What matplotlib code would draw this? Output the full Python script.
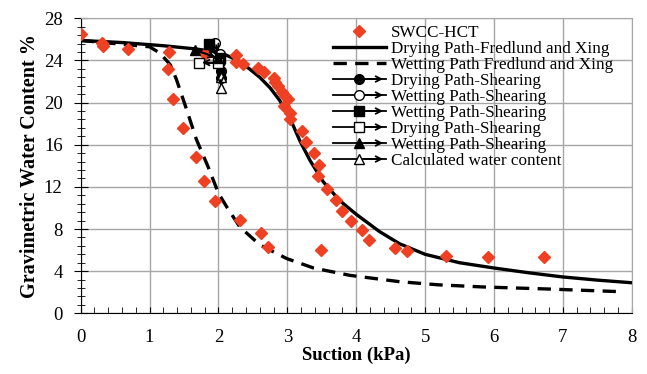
import matplotlib
matplotlib.use('Agg')
import matplotlib.pyplot as plt
from matplotlib.legend_handler import HandlerLine2D
from matplotlib.patches import FancyArrowPatch
from matplotlib.ticker import MultipleLocator

plt.rcParams['font.family'] = ['Liberation Serif', 'DejaVu Serif']

# measured SWCC points (HCT)
swcc_x = [0.0, 0.31, 0.32, 0.68, 1.28, 1.27, 1.34, 1.48, 1.68, 1.79, 1.95, 2.32, 2.62, 2.72,
          3.49, 1.81, 2.26, 2.25, 2.35, 2.57, 2.66, 2.80, 2.82, 2.87, 2.92, 2.96, 3.01,
          2.95, 3.04, 3.04, 3.21, 3.27, 3.39, 3.46, 3.44, 3.58, 3.70, 3.80, 3.92, 4.08,
          4.19, 4.56, 4.74, 5.30, 5.91, 6.72]
swcc_y = [26.5, 25.7, 25.4, 25.1, 24.8, 23.2, 20.3, 17.6, 14.8, 12.6, 10.7, 8.9, 7.6, 6.3,
          6.0, 24.6, 24.5, 23.9, 23.7, 23.3, 22.9, 22.3, 22.0, 21.6, 21.0, 20.6, 20.3,
          19.7, 19.0, 18.4, 17.3, 16.3, 15.2, 14.1, 13.0, 11.8, 10.8, 9.7, 8.8, 7.9,
          7.0, 6.2, 5.9, 5.4, 5.3, 5.3]

# Fredlund and Xing fits
dry_x = [0.0, 0.6, 1.2, 1.66, 2.0, 2.15, 2.3, 2.45, 2.6, 2.75, 2.89, 3.04, 3.18, 3.33, 3.52,
         3.76, 4.0, 4.34, 4.63, 5.0, 5.5, 6.0, 6.5, 7.0, 7.5, 8.0]
dry_y = [25.9, 25.7, 25.4, 25.1, 24.8, 24.4, 23.9, 23.2, 22.4, 21.4, 20.2, 18.5, 16.4, 14.5, 12.5,
         10.7, 9.4, 7.75, 6.6, 5.6, 4.8, 4.3, 3.85, 3.45, 3.15, 2.9]
wet_x = [0.0, 0.5, 1.0, 1.15, 1.30, 1.39, 1.54, 1.68, 1.85, 2.0, 2.12, 2.31, 2.60, 2.99,
         3.38, 3.91, 4.63, 5.2, 5.84, 6.81, 7.85]
wet_y = [25.9, 25.6, 25.3, 24.7, 23.6, 22.2, 19.3, 16.5, 13.9, 11.4, 10.1, 8.2, 6.5, 5.2,
         4.3, 3.6, 3.0, 2.7, 2.5, 2.3, 2.05]

# shearing paths
dry_shear1_x = [2.02, 2.03, 2.03]
dry_shear1_y = [23.9, 23.0, 22.3]
wet_shear1_x = [1.95, 2.02]
wet_shear1_y = [25.7, 24.6]
wet_shear2_x = [1.87, 2.02]
wet_shear2_y = [25.6, 24.2]
dry_shear2_x = [2.0, 1.72]
dry_shear2_y = [23.8, 23.8]
wet_shear3_x = [1.66, 2.0]
wet_shear3_y = [25.0, 24.2]
calc_x = [2.03, 2.03]
calc_y = [22.4, 21.4]

red = '#EE4123'


class ArrowHandler(HandlerLine2D):
    def create_artists(self, legend, orig_handle, xdescent, ydescent, width, height, fontsize, trans):
        arts = super().create_artists(legend, orig_handle, xdescent, ydescent, width, height, fontsize, trans)
        y = height / 2 - ydescent
        arr = FancyArrowPatch((width * 0.55 - xdescent, y), (width - xdescent, y),
                              arrowstyle='->', mutation_scale=10, lw=1.3, color='black',
                              transform=trans)
        return arts + [arr]


fig = plt.figure(figsize=(6.47, 3.74), dpi=100)
ax = fig.add_axes([0.1247, 0.1623, 0.8517, 0.7887])

ax.plot(swcc_x, swcc_y, 'D', color=red, markersize=6.5, label='SWCC-HCT', zorder=3)
ax.plot(dry_x, dry_y, '-', color='black', lw=2.4, label='Drying Path-Fredlund and Xing', zorder=2)
ax.plot(wet_x, wet_y, color='black', lw=2.4, dashes=(4, 2.5),
        label='Wetting Path Fredlund and Xing', zorder=2)

shear = [
    (dry_shear1_x, dry_shear1_y, 'o', 'black', 'Drying Path-Shearing'),
    (wet_shear1_x, wet_shear1_y, 'o', 'white', 'Wetting Path-Shearing'),
    (wet_shear2_x, wet_shear2_y, 's', 'black', 'Wetting Path-Shearing'),
    (dry_shear2_x, dry_shear2_y, 's', 'white', 'Drying Path-Shearing'),
    (wet_shear3_x, wet_shear3_y, '^', 'black', 'Wetting Path-Shearing'),
    (calc_x, calc_y, '^', 'white', 'Calculated water content'),
]
shear_handles = []
for xs, ys, m, fc, lab in shear:
    h, = ax.plot(xs, ys, '-', marker=m, color='black', mfc=fc, mec='black',
                 markersize=7, lw=1.3, label=lab, zorder=4)
    shear_handles.append(h)
    ax.annotate('', xy=(xs[-1], ys[-1]), xytext=(xs[-2], ys[-2]),
                arrowprops=dict(arrowstyle='->', color='black', lw=1.3), zorder=4)

ax.set_xlim(0, 8)
ax.set_ylim(0, 28)
ax.xaxis.set_major_locator(MultipleLocator(1))
ax.xaxis.set_minor_locator(MultipleLocator(0.2))
ax.yaxis.set_major_locator(MultipleLocator(4))
ax.yaxis.set_minor_locator(MultipleLocator(0.8))
ax.grid(True, which='major', color='#A6A6A6', lw=1.0)
ax.set_axisbelow(True)
ax.tick_params(axis='x', which='both', direction='in', labelsize=13.5, pad=11)
ax.tick_params(axis='x', which='major', length=4)
ax.tick_params(axis='x', which='minor', length=4)
ax.tick_params(axis='y', which='both', direction='inout', labelsize=13.5)
ax.tick_params(axis='y', which='major', length=10, pad=8)
ax.tick_params(axis='y', which='minor', length=6)
for s in ['top', 'right']:
    ax.spines[s].set_color('#A6A6A6')
ax.set_xlabel('Suction (kPa)', fontsize=13.5, fontweight='bold', labelpad=1)
ax.set_ylabel('Gravimetric Water Content %', fontsize=14.5, fontweight='bold', labelpad=3)

handler_map = {h: ArrowHandler() for h in shear_handles}
leg = ax.legend(loc='upper left', bbox_to_anchor=(333 / 647, 1 - 25 / 374),
                bbox_transform=fig.transFigure, frameon=False, fontsize=12.3,
                handlelength=3.1, handletextpad=0.3, labelspacing=0.0,
                borderpad=0, borderaxespad=0, numpoints=1, handler_map=handler_map)

fig.savefig('out.png', dpi=100)
